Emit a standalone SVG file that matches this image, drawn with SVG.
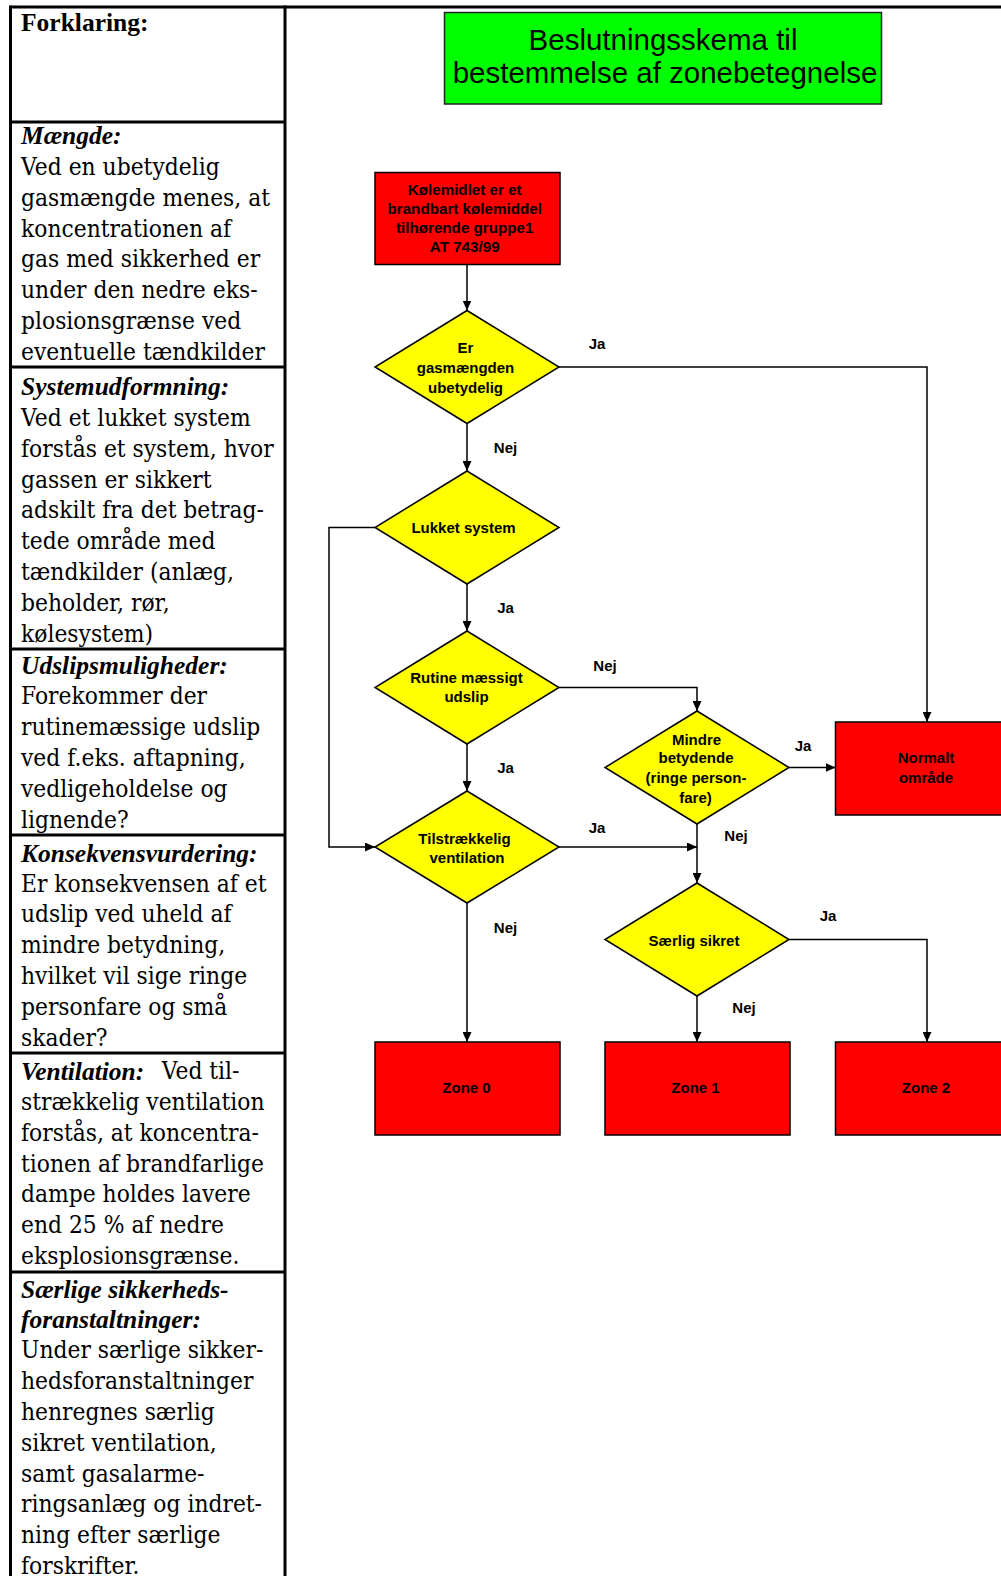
<svg xmlns="http://www.w3.org/2000/svg" width="1001" height="1576" viewBox="0 0 1001 1576">
<defs>
<style>
.tb{fill:none;stroke:#000;stroke-width:3}
.body{font-family:"DejaVu Serif","Liberation Serif",serif;font-size:25px;fill:#000}
.hd{font-family:"Liberation Serif",serif;font-size:25.5px;font-weight:bold;font-style:italic;fill:#000}
.hb{font-family:"Liberation Serif",serif;font-size:25.5px;font-weight:bold;fill:#000}
.nt{font-family:"Liberation Sans",Arial,sans-serif;font-size:15px;font-weight:bold;text-anchor:middle;fill:#000}
.st{font-family:"Liberation Sans",Arial,sans-serif;font-size:15.2px;font-weight:bold;text-anchor:middle;fill:#000}
.ttl{font-family:"Liberation Sans",Arial,sans-serif;font-size:29.5px;text-anchor:middle;fill:#000}
.dia{fill:#FFFF00;stroke:#000;stroke-width:1.5}
.red{fill:#FF0000;stroke:#000;stroke-width:1.5}
.grn{fill:#00FF00;stroke:#222;stroke-width:1.5}
.con{fill:none;stroke:#000;stroke-width:1.5}
.arr{marker-end:url(#ah)}
</style>
<marker id="ah" markerUnits="userSpaceOnUse" markerWidth="10" markerHeight="9" refX="10" refY="4.5" orient="auto">
<path d="M0,0 L10,4.5 L0,9 z" fill="#000"/>
</marker>
</defs>
<rect x="0" y="0" width="1001" height="1576" fill="#fff"/>

<g id="legend-table">
<line class="tb" x1="10.5" y1="7" x2="1001" y2="7"/>
<line class="tb" x1="10.5" y1="5.5" x2="10.5" y2="1576"/>
<line class="tb" x1="285" y1="5.5" x2="285" y2="1576"/>
<line class="tb" x1="10.5" y1="122" x2="285" y2="122"/>
<line class="tb" x1="10.5" y1="367" x2="285" y2="367"/>
<line class="tb" x1="10.5" y1="649" x2="285" y2="649"/>
<line class="tb" x1="10.5" y1="835" x2="285" y2="835"/>
<line class="tb" x1="10.5" y1="1053" x2="285" y2="1053"/>
<line class="tb" x1="10.5" y1="1272" x2="285" y2="1272"/>
</g>

<g id="legend-headings">
<text class="hb" x="21" y="31">Forklaring:</text>
<text class="hd" x="21" y="144.3">Mængde:</text>
<text class="hd" x="21" y="395">Systemudformning:</text>
<text class="hd" x="21" y="674">Udslipsmuligheder:</text>
<text class="hd" x="21" y="861.7">Konsekvensvurdering:</text>
<text class="hd" x="21" y="1079.5">Ventilation:</text>
<text class="hd" x="21" y="1297.5">Særlige sikkerheds-</text>
<text class="hd" x="21" y="1328">foranstaltninger:</text>
</g>

<g id="legend-body" class="body" transform="scale(0.875,1)">
<text x="24" y="175.3">Ved en ubetydelig</text>
<text x="24" y="206">gasmængde menes, at</text>
<text x="24" y="236.8">koncentrationen af</text>
<text x="24" y="267.5">gas med sikkerhed er</text>
<text x="24" y="298.3">under den nedre eks-</text>
<text x="24" y="329">plosionsgrænse ved</text>
<text x="24" y="359.8">eventuelle tændkilder</text>

<text x="24" y="426">Ved et lukket system</text>
<text x="24" y="456.8">forstås et system, hvor</text>
<text x="24" y="487.6">gassen er sikkert</text>
<text x="24" y="518.4">adskilt fra det betrag-</text>
<text x="24" y="549.2">tede område med</text>
<text x="24" y="580">tændkilder (anlæg,</text>
<text x="24" y="610.8">beholder, rør,</text>
<text x="24" y="641.6">kølesystem)</text>

<text x="24" y="704.5">Forekommer der</text>
<text x="24" y="735.3">rutinemæssige udslip</text>
<text x="24" y="766.1">ved f.eks. aftapning,</text>
<text x="24" y="796.9">vedligeholdelse og</text>
<text x="24" y="827.7">lignende?</text>

<text x="24" y="891.7">Er konsekvensen af et</text>
<text x="24" y="922.5">udslip ved uheld af</text>
<text x="24" y="953.3">mindre betydning,</text>
<text x="24" y="984.1">hvilket vil sige ringe</text>
<text x="24" y="1014.9">personfare og små</text>
<text x="24" y="1045.7">skader?</text>

<text x="184.8" y="1079.5">Ved til-</text>
<text x="24" y="1110">strækkelig ventilation</text>
<text x="24" y="1140.8">forstås, at koncentra-</text>
<text x="24" y="1171.6">tionen af brandfarlige</text>
<text x="24" y="1202.4">dampe holdes lavere</text>
<text x="24" y="1233.2">end 25 % af nedre</text>
<text x="24" y="1264">eksplosionsgrænse.</text>

<text x="24" y="1358.5">Under særlige sikker-</text>
<text x="24" y="1389.3">hedsforanstaltninger</text>
<text x="24" y="1420.1">henregnes særlig</text>
<text x="24" y="1450.9">sikret ventilation,</text>
<text x="24" y="1481.7">samt gasalarme-</text>
<text x="24" y="1512.5">ringsanlæg og indret-</text>
<text x="24" y="1543.3">ning efter særlige</text>
<text x="24" y="1574.1">forskrifter.</text>
</g>

<g id="title">
<rect class="grn" x="444.5" y="12.5" width="437" height="91.5"/>
<text class="ttl" x="663" y="50">Beslutningsskema til</text>
<text class="ttl" x="665" y="83">bestemmelse af zonebetegnelse</text>
</g>

<g id="connectors">
<path class="con arr" d="M467,264 V310.5"/>
<path class="con arr" d="M559,367 H927 V722"/>
<path class="con arr" d="M467,423.5 V471"/>
<path class="con arr" d="M375,527.5 H329 V847 H375"/>
<path class="con arr" d="M467,584 V631"/>
<path class="con arr" d="M559,687.5 H697 V711"/>
<path class="con arr" d="M467,744 V791"/>
<path class="con arr" d="M559,847 H697"/>
<path class="con arr" d="M789,767.5 H835.5"/>
<path class="con arr" d="M697,824 V883"/>
<path class="con arr" d="M467,903 V1042"/>
<path class="con arr" d="M697,996 V1042"/>
<path class="con arr" d="M789,939.5 H927 V1042"/>
</g>

<g id="connector-labels">
<text class="nt" x="597" y="349">Ja</text>
<text class="nt" x="505.5" y="452.5">Nej</text>
<text class="nt" x="505.5" y="612.5">Ja</text>
<text class="nt" x="605" y="670.5">Nej</text>
<text class="nt" x="505.5" y="773">Ja</text>
<text class="nt" x="597" y="833">Ja</text>
<text class="nt" x="803" y="751">Ja</text>
<text class="nt" x="736" y="840.5">Nej</text>
<text class="nt" x="505.5" y="932.5">Nej</text>
<text class="nt" x="828" y="920.5">Ja</text>
<text class="nt" x="744" y="1012.5">Nej</text>
</g>

<g id="start">
<rect class="red" x="375" y="172.5" width="185" height="92"/>
<text class="st" x="464.7" y="194.5">Kølemidlet er et</text>
<text class="st" x="464.7" y="213.8">brandbart kølemiddel</text>
<text class="st" x="464.7" y="233">tilhørende gruppe1</text>
<text class="st" x="464.7" y="252">AT 743/99</text>
</g>

<g id="d1">
<polygon class="dia" points="467,310.5 559,367 467,423.5 375,367"/>
<text class="nt" x="465.5" y="353">Er</text>
<text class="nt" x="465.5" y="373">gasmængden</text>
<text class="nt" x="465.5" y="393">ubetydelig</text>
</g>

<g id="d2">
<polygon class="dia" points="467,471 559,527.5 467,584 375,527.5"/>
<text class="nt" x="463.5" y="533">Lukket system</text>
</g>

<g id="d3">
<polygon class="dia" points="467,631 559,687.5 467,744 375,687.5"/>
<text class="nt" x="466.5" y="682.7">Rutine mæssigt</text>
<text class="nt" x="466.5" y="702.3">udslip</text>
</g>

<g id="d4">
<polygon class="dia" points="467,791 559,847 467,903 375,847"/>
<text class="nt" x="464.5" y="844">Tilstrækkelig</text>
<text class="nt" x="467" y="863.3">ventilation</text>
</g>

<g id="d5">
<polygon class="dia" points="697,711 789,767.5 697,824 605,767.5"/>
<text class="nt" x="696.5" y="744.5">Mindre</text>
<text class="nt" x="696" y="763">betydende</text>
<text class="nt" x="696" y="782.5">(ringe person-</text>
<text class="nt" x="695.5" y="802.5">fare)</text>
</g>

<g id="normalt">
<rect class="red" x="835.5" y="722" width="185" height="93"/>
<text class="nt" x="926" y="762.7">Normalt</text>
<text class="nt" x="926" y="782.7">område</text>
</g>

<g id="d6">
<polygon class="dia" points="697,883 789,939.5 697,996 605,939.5"/>
<text class="nt" x="694" y="945.7">Særlig sikret</text>
</g>

<g id="zone0">
<rect class="red" x="375" y="1042" width="185" height="93"/>
<text class="nt" x="466.5" y="1093.3">Zone 0</text>
</g>
<g id="zone1">
<rect class="red" x="605" y="1042" width="185" height="93"/>
<text class="nt" x="695.5" y="1093.3">Zone 1</text>
</g>
<g id="zone2">
<rect class="red" x="835.5" y="1042" width="185" height="93"/>
<text class="nt" x="926" y="1093.3">Zone 2</text>
</g>
</svg>
